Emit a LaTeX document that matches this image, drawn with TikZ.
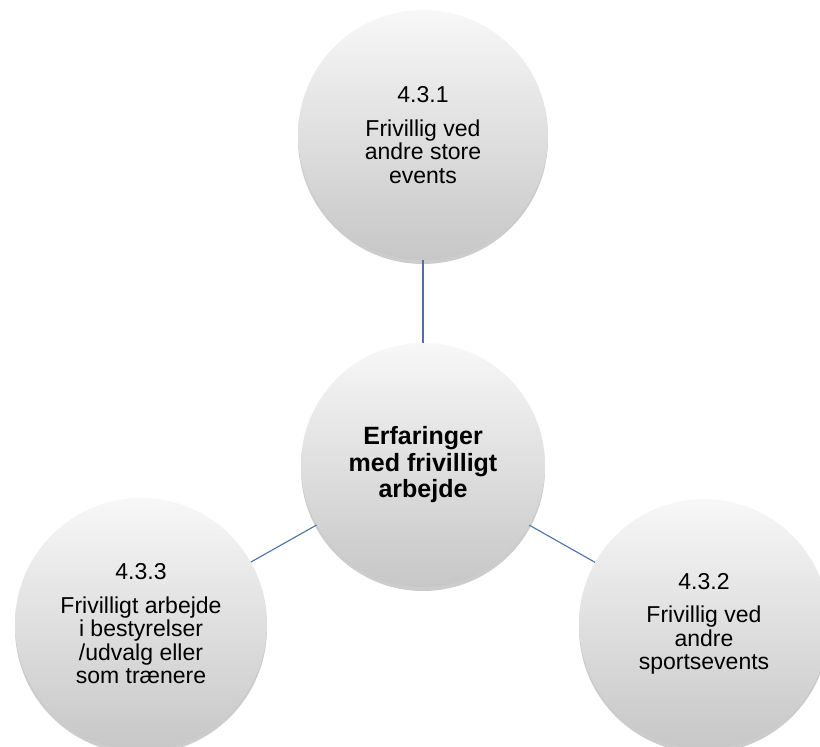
\documentclass[tikz,border=0pt]{standalone}
\usepackage{fontspec}
\setmainfont{Liberation Sans}
\usetikzlibrary{shadows}
\definecolor{linkblue}{HTML}{4A72A8}
\begin{document}
\begin{tikzpicture}[x=1pt,y=-1pt,
  bubble/.style={circle, inner sep=0pt, minimum size=#1, align=center,
    top color=black!3, bottom color=black!22, draw=none,
    drop shadow={shadow xshift=0pt, shadow yshift=-4pt, opacity=0.2, fill=black}},
  bubble/.default=250pt,
  small/.style={font=\fontsize{23}{23.5}\selectfont},
  big/.style={font=\fontsize{25}{26.5}\selectfont\bfseries},
  link/.style={draw=linkblue, line width=1.1pt}]
\useasboundingbox (0,0) rectangle (820,747);
\node[bubble=250pt, small] (top) at (423,135) {4.3.1\\[10pt]Frivillig ved\\andre store\\events};
\node[bubble=244pt, big] (mid) at (423,465) {Erfaringer\\med frivilligt\\arbejde};
\node[bubble=252pt, small] (left) at (141,624) {4.3.3\\[10pt]Frivilligt arbejde\\i bestyrelser\\/udvalg eller\\som trænere};
\node[bubble=250pt, small] (right) at (704,624) {4.3.2\\[10pt]Frivillig ved\\andre\\sportsevents};
\draw[link] (top) -- (mid);
\draw[link] (mid) -- (left);
\draw[link] (mid) -- (right);
\end{tikzpicture}
\end{document}
